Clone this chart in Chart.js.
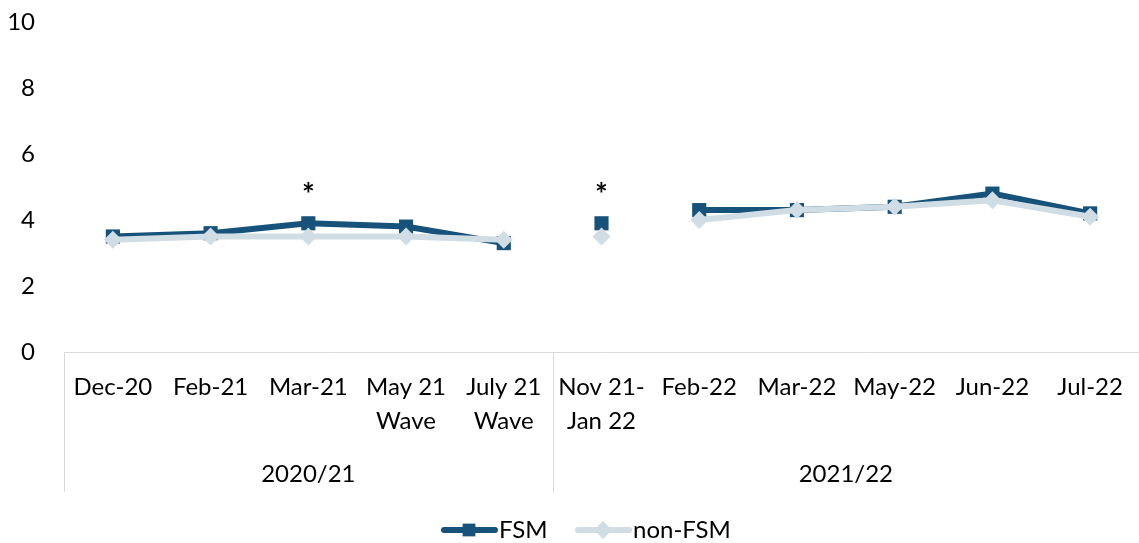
<!DOCTYPE html>
<html>
<head>
<meta charset="utf-8">
<script src="https://cdn.jsdelivr.net/npm/chart.js@4/dist/chart.umd.min.js"></script>
<style>
  html, body { margin: 0; padding: 0; background: #fff; overflow: hidden; }
  #wrap { width: 1139px; height: 543px; position: relative; }
</style>
</head>
<body>
<div id="wrap"><canvas id="chart"></canvas></div>
<script>
// chart data
const categories = [
  ['Dec-20'], ['Feb-21'], ['Mar-21'], ['May 21', 'Wave'], ['July 21', 'Wave'],
  ['Nov 21-', 'Jan 22'], ['Feb-22'], ['Mar-22'], ['May-22'], ['Jun-22'], ['Jul-22']
];
const groupNames = ['2020/21', '2021/22'];
const groupSizes = [5, 6];
const fsm    = [3.5, 3.6, 3.9, 3.8, 3.3, 3.9, 4.3, 4.3, 4.4, 4.8, 4.2];
const nonFsm = [3.4, 3.5, 3.5, 3.5, 3.4, 3.5, 4.0, 4.3, 4.4, 4.6, 4.1];
const significant = [2, 5];        // categories marked with *
const breaksAfter = [4, 5];        // no line drawn after these points
const yTicks = [0, 2, 4, 6, 8, 10];

const FSM_COLOR = '#17527A';
const NON_COLOR = '#D0DDE5';
const AXIS_COLOR = '#D9D9D9';
const FONT = 'Lato, "Open Sans", sans-serif';
const FONT_SIZE = 24;

function segColor(color) {
  return ctx => breaksAfter.includes(ctx.p0DataIndex) ? 'rgba(0,0,0,0)' : color;
}

function noPadding(s) {
  s.paddingTop = 0; s.paddingBottom = 0; s.paddingLeft = 0; s.paddingRight = 0;
}

const extrasPlugin = {
  id: 'extras',
  afterDraw(chart) {
    const { ctx, chartArea, scales } = chart;
    const x = scales.x, y = scales.y;
    const bottom = chartArea.bottom;
    const step = x.getPixelForValue(1) - x.getPixelForValue(0);
    ctx.save();

    // axis line and group separators
    ctx.strokeStyle = AXIS_COLOR;
    ctx.lineWidth = 1;
    ctx.beginPath();
    ctx.moveTo(chartArea.left, bottom + 0.5);
    ctx.lineTo(chartArea.right, bottom + 0.5);
    let idx = 0;
    const seps = [chartArea.left];
    groupSizes.forEach(n => { idx += n; seps.push(x.getPixelForValue(idx - 1) + step / 2); });
    seps.filter(px => px < chart.width - 2).forEach(px => {
      const sx = Math.round(px) + 0.5;
      ctx.moveTo(sx, bottom);
      ctx.lineTo(sx, bottom + 140);
    });
    ctx.stroke();

    // category labels
    ctx.fillStyle = '#000';
    ctx.font = FONT_SIZE + 'px ' + FONT;
    ctx.textAlign = 'center';
    ctx.textBaseline = 'middle';
    categories.forEach((lines, i) => {
      const cx = x.getPixelForValue(i);
      lines.forEach((t, j) => ctx.fillText(t, cx, bottom + 35 + j * 34));
    });

    // group labels
    idx = 0;
    groupSizes.forEach((n, g) => {
      const a = x.getPixelForValue(idx) - step / 2;
      const b = x.getPixelForValue(idx + n - 1) + step / 2;
      ctx.fillText(groupNames[g], (a + b) / 2, bottom + 122);
      idx += n;
    });

    // significance markers
    ctx.font = 'bold 30px ' + FONT;
    significant.forEach(i => {
      ctx.fillText('*', x.getPixelForValue(i), y.getPixelForValue(5) + 8);
    });

    // legend
    const ly = 530;
    const items = [
      { label: 'FSM', color: FSM_COLOR, style: 'rect', x0: 441 },
      { label: 'non-FSM', color: NON_COLOR, style: 'rectRot', x0: 575 }
    ];
    ctx.font = FONT_SIZE + 'px ' + FONT;
    ctx.textAlign = 'left';
    items.forEach(it => {
      ctx.strokeStyle = it.color;
      ctx.lineWidth = 6;
      ctx.lineCap = 'round';
      ctx.beginPath();
      ctx.moveTo(it.x0 + 3, ly);
      ctx.lineTo(it.x0 + 54, ly);
      ctx.stroke();
      ctx.fillStyle = it.color;
      Chart.helpers.drawPoint(ctx, { pointStyle: it.style, radius: 9, borderWidth: 0 }, it.x0 + 28, ly);
      ctx.fillStyle = '#000';
      ctx.fillText(it.label, it.x0 + 58, ly);
    });
    ctx.restore();
  }
};

new Chart(document.getElementById('chart'), {
  type: 'line',
  data: {
    labels: categories.map(c => c.join(' ')),
    datasets: [
      {
        label: 'FSM',
        data: fsm,
        borderColor: FSM_COLOR,
        backgroundColor: FSM_COLOR,
        borderWidth: 6,
        pointStyle: 'rect',
        pointRadius: 10,
        pointBorderWidth: 0,
        order: 2,
        segment: { borderColor: segColor(FSM_COLOR) }
      },
      {
        label: 'non-FSM',
        data: nonFsm,
        borderColor: NON_COLOR,
        backgroundColor: NON_COLOR,
        borderWidth: 6,
        pointStyle: 'rectRot',
        pointRadius: 9,
        pointBorderWidth: 0,
        order: 1,
        segment: { borderColor: segColor(NON_COLOR) }
      }
    ]
  },
  options: {
    responsive: true,
    maintainAspectRatio: false,
    animation: false,
    layout: { autoPadding: false, padding: { top: 22, right: 0, bottom: 191, left: 0 } },
    plugins: { legend: { display: false }, tooltip: { enabled: false } },
    scales: {
      x: {
        offset: true,
        display: false,
        afterFit: noPadding
      },
      y: {
        min: 0,
        max: 10,
        afterBuildTicks: s => { s.ticks = yTicks.map(v => ({ value: v })); },
        afterFit: s => { s.width = 64; noPadding(s); },
        grid: { display: false },
        border: { display: false },
        ticks: { padding: 21, color: '#000', font: { family: FONT, size: FONT_SIZE } }
      }
    }
  },
  plugins: [extrasPlugin]
});
</script>
</body>
</html>
